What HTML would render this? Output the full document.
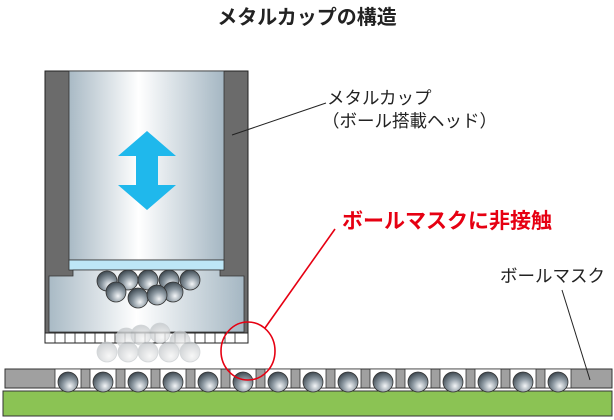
<!DOCTYPE html>
<html><head><meta charset="utf-8"><style>
html,body{margin:0;padding:0;background:#fff;}
svg{display:block;}
text{font-family:"Liberation Sans","Noto Sans CJK JP",sans-serif;}
</style></head><body>
<svg width="614" height="420" viewBox="0 0 614 420" xmlns="http://www.w3.org/2000/svg">
<defs>
<linearGradient id="cyl" x1="0" x2="1" y1="0" y2="0">
<stop offset="0" stop-color="#a9bac5"/><stop offset="0.45" stop-color="#ffffff"/><stop offset="1" stop-color="#a5b7c3"/>
</linearGradient>
<radialGradient id="ball" cx="0.6" cy="0.7" r="0.7">
<stop offset="0" stop-color="#f4f6f8"/><stop offset="0.5" stop-color="#8e9aa3"/><stop offset="1" stop-color="#3f4a52"/>
</radialGradient>
<radialGradient id="fball" cx="0.6" cy="0.7" r="0.7">
<stop offset="0" stop-color="#f6f6f6"/><stop offset="1" stop-color="#c4c8cb"/>
</radialGradient>
</defs>
<text x="307" y="24" font-size="20" font-weight="bold" text-anchor="middle" fill="#222">メタルカップの構造</text>

<!-- cup -->
<rect x="45" y="71" width="203" height="262" fill="#6b6b6b" stroke="#222" stroke-width="1"/>
<rect x="69" y="71" width="155" height="189" fill="url(#cyl)" stroke="#333" stroke-width="0.8"/>
<rect x="69" y="260" width="155" height="10" fill="#bde6f6" stroke="#333" stroke-width="0.8"/>
<path d="M73 270 H220 V276 H244 V332 H49 V276 H73 Z" fill="url(#cyl)" stroke="#333" stroke-width="0.8"/>
<polygon points="147,131 176,156 158,156 158,185 176,185 147,210 118,185 136,185 136,156 118,156" fill="#1fb8ec"/>
<rect x="45" y="333" width="203" height="10" fill="#fff" stroke="#222" stroke-width="1"/>
<g stroke="#222" stroke-width="0.8">
<line x1="55" y1="333" x2="55" y2="343"/><line x1="65" y1="333" x2="65" y2="343"/><line x1="75" y1="333" x2="75" y2="343"/><line x1="85" y1="333" x2="85" y2="343"/><line x1="95" y1="333" x2="95" y2="343"/><line x1="105" y1="333" x2="105" y2="343"/><line x1="115" y1="333" x2="115" y2="343"/><line x1="125" y1="333" x2="125" y2="343"/><line x1="135" y1="333" x2="135" y2="343"/><line x1="145" y1="333" x2="145" y2="343"/><line x1="155" y1="333" x2="155" y2="343"/><line x1="165" y1="333" x2="165" y2="343"/><line x1="175" y1="333" x2="175" y2="343"/><line x1="185" y1="333" x2="185" y2="343"/><line x1="195" y1="333" x2="195" y2="343"/><line x1="205" y1="333" x2="205" y2="343"/><line x1="215" y1="333" x2="215" y2="343"/><line x1="225" y1="333" x2="225" y2="343"/><line x1="235" y1="333" x2="235" y2="343"/>
</g>
<g stroke="#333" stroke-width="0.8" fill="url(#ball)">
<circle cx="107" cy="281" r="10"/><circle cx="128" cy="280" r="10"/><circle cx="148" cy="280" r="10"/><circle cx="169" cy="280" r="10"/><circle cx="190" cy="280" r="10"/>
<circle cx="116" cy="292" r="10"/><circle cx="138" cy="298" r="10"/><circle cx="173" cy="292" r="10"/><circle cx="157" cy="295" r="10"/>
</g>
<g fill="url(#fball)" stroke="#c8cccf" stroke-width="0.8" opacity="0.8">
<circle cx="126" cy="338" r="10"/><circle cx="141" cy="335" r="10"/><circle cx="160" cy="333" r="10"/><circle cx="180" cy="341" r="10"/>
<circle cx="107" cy="352" r="10"/><circle cx="128" cy="352" r="10"/><circle cx="148" cy="352" r="10"/><circle cx="169" cy="352" r="10"/><circle cx="190" cy="352" r="10"/>
</g>

<rect x="3" y="391" width="609" height="25" fill="#8bc354" stroke="#333" stroke-width="1"/>
<rect x="5" y="369" width="607" height="19" fill="#a0a0a0" stroke="#333" stroke-width="1"/>
<g fill="#fff" stroke="#333" stroke-width="0.8">
<rect x="55" y="369" width="26" height="19"/><rect x="90" y="369" width="26" height="19"/><rect x="125" y="369" width="26" height="19"/><rect x="160" y="369" width="26" height="19"/><rect x="195" y="369" width="26" height="19"/><rect x="230" y="369" width="26" height="19"/><rect x="265" y="369" width="26" height="19"/><rect x="300" y="369" width="26" height="19"/><rect x="335" y="369" width="26" height="19"/><rect x="370" y="369" width="26" height="19"/><rect x="405" y="369" width="26" height="19"/><rect x="440" y="369" width="26" height="19"/><rect x="475" y="369" width="26" height="19"/><rect x="510" y="369" width="26" height="19"/><rect x="545" y="369" width="26" height="19"/>
</g>
<g fill="url(#ball)" stroke="#333" stroke-width="0.8">
<ellipse cx="68" cy="382" rx="10" ry="10"/><ellipse cx="103" cy="382" rx="10" ry="10"/><ellipse cx="138" cy="382" rx="10" ry="10"/><ellipse cx="173" cy="382" rx="10" ry="10"/><ellipse cx="208" cy="382" rx="10" ry="10"/><ellipse cx="243" cy="382" rx="10" ry="10"/><ellipse cx="278" cy="382" rx="10" ry="10"/><ellipse cx="313" cy="382" rx="10" ry="10"/><ellipse cx="348" cy="382" rx="10" ry="10"/><ellipse cx="383" cy="382" rx="10" ry="10"/><ellipse cx="418" cy="382" rx="10" ry="10"/><ellipse cx="453" cy="382" rx="10" ry="10"/><ellipse cx="488" cy="382" rx="10" ry="10"/><ellipse cx="523" cy="382" rx="10" ry="10"/><ellipse cx="558" cy="382" rx="10" ry="10"/>
</g>

<ellipse cx="248" cy="351" rx="27" ry="29" fill="none" stroke="#e60012" stroke-width="1.6"/>
<line x1="265" y1="328" x2="335" y2="229" stroke="#e60012" stroke-width="1.6"/>
<text x="342" y="228" font-size="21" font-weight="bold" fill="#e60012">ボールマスクに非接触</text>

<line x1="232" y1="135" x2="326" y2="103" stroke="#222" stroke-width="1"/>
<text x="327" y="104" font-size="17.5" fill="#222">メタルカップ</text>
<text x="322" y="127" font-size="17.5" fill="#222">（ボール搭載ヘッド）</text>
<line x1="562" y1="290" x2="590" y2="380" stroke="#222" stroke-width="1"/>
<text x="500" y="282" font-size="17.5" fill="#222">ボールマスク</text>
</svg>
</body></html>
